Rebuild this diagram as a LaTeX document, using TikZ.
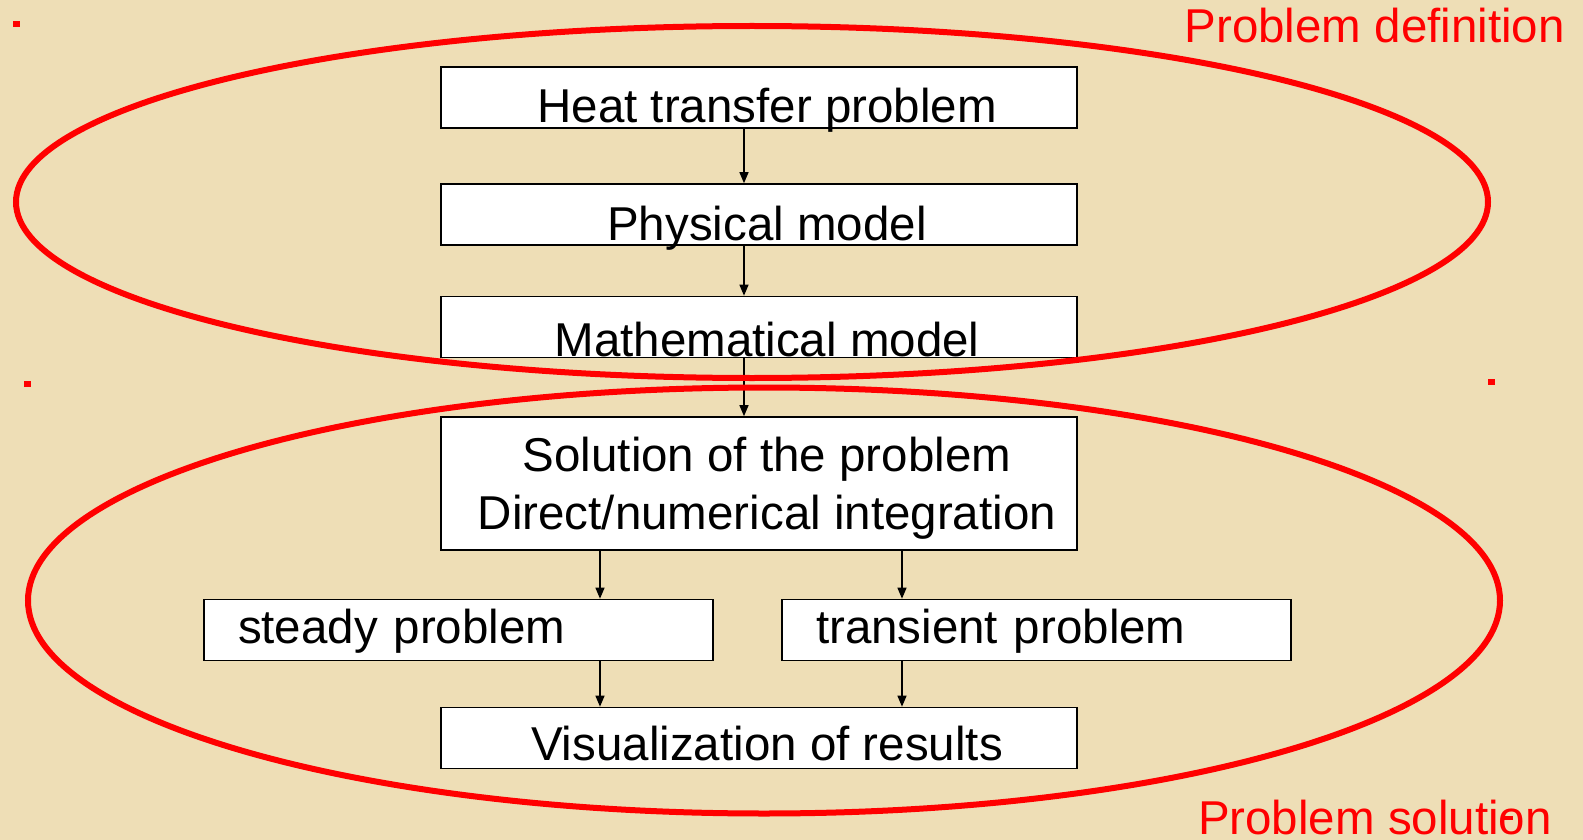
\documentclass[tikz,border=0pt]{standalone}
\usepackage{fontspec}
\setmainfont{Liberation Sans}
\usetikzlibrary{arrows.meta,positioning}
\definecolor{Parchment}{RGB}{238,222,182}
\definecolor{RingRed}{RGB}{255,0,0}

\begin{document}
\begin{tikzpicture}[x=1pt,y=-1pt,
  frame/.style={draw=black,fill=white,line width=1.6pt,inner sep=0pt,
    font=\fontsize{47.5}{57.5}\selectfont},
  box/.style={frame,minimum width=636pt,minimum height=61pt,text height=51pt,text depth=0pt},
  side/.style={frame,text width=441pt,align=left,inner xsep=34pt,
    minimum height=61pt,text height=26pt,text depth=0pt},
  flow/.style={-{Triangle[length=11pt,width=9pt]},line width=1.3pt},
  ring/.style={RingRed,line width=6pt},
  tag/.style={RingRed,inner sep=0pt,text depth=0pt,font=\fontsize{47.5}{57.5}\selectfont}]
  \fill[Parchment] (0,0) rectangle (1583,840);
  \useasboundingbox (0,0) rectangle (1583,840);

  % definition part
  \node[box] (heat) at (759,97.5) {\hspace*{16pt}Heat transfer problem};
  \node[box] (phys) at (759,214.5) {\hspace*{16pt}Physical model};
  \node[box,text height=58pt] (math) at (759,327) {\hspace*{16pt}Mathematical model};

  % solution part
  \node[frame,minimum width=636pt,minimum height=133pt,align=center,text depth=0pt]
    (sol) at (759,483.5) {\hspace*{16pt}Solution of the problem\\\hspace*{16pt}Direct/numerical integration};
  \node[side] (steady) at (458.5,630) {steady problem};
  \node[side] (trans) at (1036.5,630) {transient problem};
  \node[box,text height=45pt] (vis) at (759,738) {\hspace*{16pt}Visualization of results};

  \draw[flow] ([xshift=-15]heat.south) -- ([xshift=-15]phys.north);
  \draw[flow] ([xshift=-15]phys.south) -- ([xshift=-15]math.north);
  \draw[flow] ([xshift=-15]math.south) -- ([xshift=-15]sol.north);
  \draw[flow] ([xshift=-159]sol.south) -- ([xshift=-159]sol.south |- steady.north);
  \draw[flow] ([xshift=143]sol.south) -- ([xshift=143]sol.south |- trans.north);
  \draw[flow] ([xshift=-159]vis.north |- steady.south) -- ([xshift=-159]vis.north);
  \draw[flow] ([xshift=143]vis.north |- trans.south) -- ([xshift=143]vis.north);

  % the two rings
  \draw[ring] (752,202) ellipse [x radius=736, y radius=176];
  \draw[ring] (764,600.5) ellipse [x radius=736, y radius=213];

  \foreach \px/\py in {16/24,27/384,1491/382}
    \fill[RingRed] (\px-3.5,\py-3) rectangle ++(7,6);
  \fill[RingRed] (1504,816) rectangle ++(9,4);

  \node[tag,anchor=base east] (deftag) at (1565,43) {Problem definition};
  \node[tag,anchor=base east] (soltag) at (1552,834) {Problem solution};
\end{tikzpicture}
\end{document}
